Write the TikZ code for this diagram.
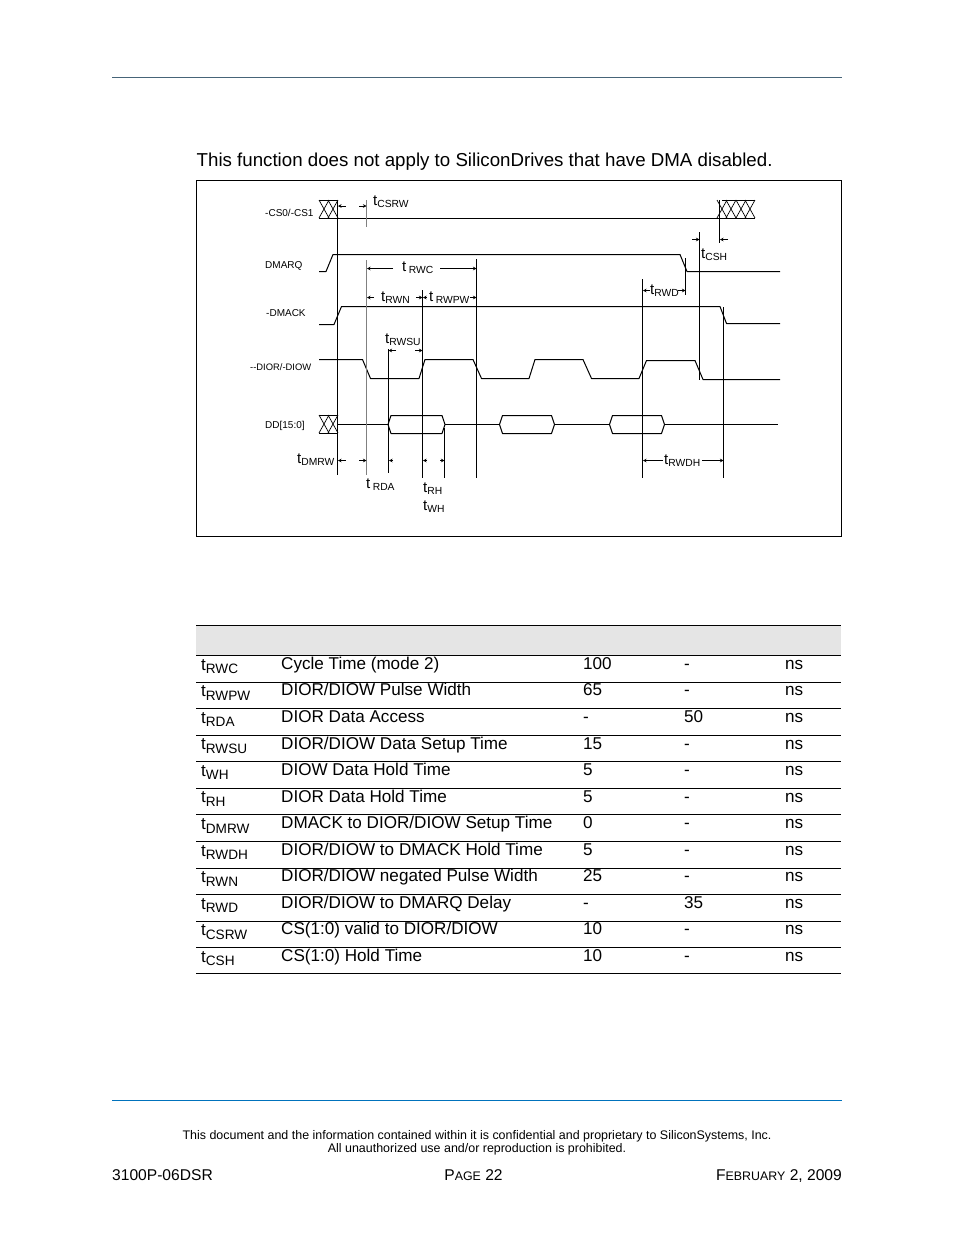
\documentclass[tikz,border=0pt]{standalone}
\usepackage{fontspec}
\setmainfont{Liberation Sans}
\usetikzlibrary{arrows.meta}
\definecolor{toprule}{RGB}{70,100,120}
\definecolor{footrule}{RGB}{0,114,188}
\definecolor{headfill}{RGB}{229,229,229}
\newcommand{\fsz}[1]{\fontsize{#1}{#1}\selectfont}
% label of a timing: big t, small lowered name
\newcommand{\tlab}[1]{\fsz{15}t\raisebox{-2.5pt}{\fsz{10.3}#1}}
\newcommand{\trow}[1]{\fsz{17}t\raisebox{-3.5pt}{\fsz{13.6}#1}}
\tikzset{
  wave/.style={line width=1pt, line join=round},
  hatch/.style={line width=0.7pt},
  guide/.style={line width=1pt},
  dimline/.style={line width=0.9pt, -{Stealth[length=3.5pt,width=3.5pt]}},
  siglabel/.style={anchor=west, inner sep=0pt, font=\fsz{10}},
  timelabel/.style={anchor=base west, inner sep=0pt},
  cell/.style={anchor=base west, inner sep=0pt, font=\fsz{17.1}},
  rowline/.style={line width=0.8pt, black}
}
\begin{document}
\begin{tikzpicture}[x=1pt,y=-1pt]
	\useasboundingbox (0,0) rectangle (954,1235);
	\draw [toprule, line width=0.9pt] (112,77.5) -- (842,77.5);
	\node (intro) [anchor=base west, inner sep=0pt, font=\fsz{18.7}] at (196.5,166.2) {This function does not apply to SiliconDrives that have DMA disabled.};
	\draw [line width=0.8pt] (196.5,180) rectangle (841.5,536.5);
	% signal names
	\node (cs) [siglabel] at (265,213) {-CS0/-CS1};
	\node (dmarq) [siglabel] at (265,265.5) {DMARQ};
	\node (dmack) [siglabel] at (266,313) {-DMACK};
	\node (dior) [siglabel, font=\fsz{9.4}] at (250,367.5) {{-}{-}DIOR/-DIOW};
	\node (dd) [siglabel] at (265,425.5) {DD[15:0]};
	% waves
	\draw [wave] (319,218.5) -- (755,218.5);
	\foreach \xa in {319,328} {
		\draw [hatch] (\xa,200) -- (\xa+10,218) (\xa,218) -- (\xa+10,200);
		\draw [hatch] (\xa,433) -- (\xa+10,415) (\xa,415) -- (\xa+10,433);
	}
	\draw [hatch] (319,200) -- (338,200) (319,415) -- (338,415) (319,433) -- (338,433);
	\foreach \xa in {717,726,736,745} {
		\draw [hatch] (\xa,218) -- (\xa+10,200) (\xa,200) -- (\xa+10,218);
	}
	\draw [hatch] (722,200) -- (755,200);
	\draw [wave] (319,271.5) -- (326,271.5) -- (333,254.5) -- (680,254.5) -- (687,271.5) -- (780,271.5);
	\draw [wave] (319,324.5) -- (334,324.5) -- (341.5,306.5) -- (720,306.5) -- (726.5,323.5) -- (780,323.5);
	\draw [wave] (319,359.5) -- (362.5,359.5) -- (370.5,378.5) -- (419,378.5) -- (425,359.5) -- (473,359.5)
		-- (481.5,378.5) -- (529,378.5) -- (535,359.5) -- (583,359.5) -- (591.5,378.5) -- (639,378.5)
		-- (646.5,360.5) -- (695,360.5) -- (703,379.5) -- (780,379.5);
	\draw [wave] (338,424.5) -- (388,424.5) (445,424.5) -- (499.5,424.5) (554.5,424.5) -- (609.5,424.5) (664.5,424.5) -- (778,424.5);
	\foreach \xa/\xb in {388/445,499.5/554.5,609.5/664.5} {
		\draw [wave] (\xa,424.5) -- (\xa+3,415.5) -- (\xb-3,415.5) -- (\xb,424.5) -- (\xb-3,433.5) -- (\xa+3,433.5) -- cycle;
	}
	% guide lines
	\draw [guide] (337.5,200) -- (337.5,475);
	\draw [guide, gray] (366.5,200) -- (366.5,227);
	\draw [guide, gray] (366.5,260) -- (366.5,475);
	\draw [guide] (388.5,349) -- (388.5,473);
	\draw [guide] (422.5,290) -- (422.5,478);
	\draw [guide] (444.5,428) -- (444.5,478);
	\draw [guide] (476.5,259) -- (476.5,478);
	\draw [guide] (642.5,279) -- (642.5,478);
	\draw [guide] (685.5,258) -- (685.5,295);
	\draw [guide] (699.5,232) -- (699.5,380);
	\draw [guide] (719.5,200) -- (719.5,243);
	\draw [guide] (723.5,307) -- (723.5,478);
	% timing marks
	\draw [dimline] (345.5,206) -- (338,206);
	\draw [dimline] (359,206) -- (366.5,206);
	\draw [dimline] (393,268.5) -- (367,268.5);
	\draw [dimline] (440,268.5) -- (476.5,268.5);
	\draw [dimline] (374,297.5) -- (367,297.5);
	\draw [dimline] (416,297.5) -- (422.5,297.5);
	\draw [dimline] (427,297.5) -- (423,297.5);
	\draw [dimline] (470,297.5) -- (476.5,297.5);
	\draw [dimline] (396,350.5) -- (388.5,350.5);
	\draw [dimline] (415,350.5) -- (422.5,350.5);
	\draw [dimline] (650,290.5) -- (643,290.5);
	\draw [dimline] (678,290.5) -- (685.5,290.5);
	\draw [dimline] (692,239.5) -- (699.5,239.5);
	\draw [dimline] (728,239.5) -- (720,239.5);
	\draw [dimline] (345.5,460.5) -- (338,460.5);
	\draw [dimline] (359,460.5) -- (366.5,460.5);
	\draw [dimline] (393,460.5) -- (389,460.5);
	\draw [dimline] (427,460.5) -- (423,460.5);
	\draw [dimline] (440,460.5) -- (444.5,460.5);
	\draw [dimline] (663,460.5) -- (643,460.5);
	\draw [dimline] (702,460.5) -- (723.5,460.5);
	% timing names
	\node (csrw) [timelabel] at (373,205) {\tlab{CSRW}};
	\node (rwc) [timelabel] at (402,271) {\fsz{15}t\,\raisebox{-2.5pt}{\fsz{10.3}RWC}};
	\node (rwn) [timelabel] at (381,301) {\tlab{RWN}};
	\node (rwpw) [timelabel] at (429,301) {\fsz{15}t\,\raisebox{-2.5pt}{\fsz{10.3}RWPW}};
	\node (rwsu) [timelabel] at (385,343) {\tlab{RWSU}};
	\node (rwd) [timelabel] at (650,294) {\tlab{RWD}};
	\node (csh) [timelabel] at (701,258) {\tlab{CSH}};
	\node (dmrw) [timelabel] at (297,463) {\tlab{DMRW}};
	\node (rda) [timelabel] at (366,488) {\fsz{15}t\,\raisebox{-2.5pt}{\fsz{10.3}RDA}};
	\node (rh) [timelabel] at (423,492) {\tlab{RH}};
	\node (wh) [timelabel] at (423,510) {\tlab{WH}};
	\node (rwdh) [timelabel] at (664,464) {\tlab{RWDH}};
	% table
	\fill [headfill] (196,626) rectangle (841,655.5);
	\draw [rowline] (196,625.5) -- (841,625.5);
	\foreach \nr/\sym/\what/\tmin/\tmax in {
		0/RWC/Cycle Time (mode 2)/100/-,
		1/RWPW/DIOR\slash DIOW Pulse Width/65/-,
		2/RDA/DIOR Data Access/-/50,
		3/RWSU/DIOR\slash DIOW Data Setup Time/15/-,
		4/WH/DIOW Data Hold Time/5/-,
		5/RH/DIOR Data Hold Time/5/-,
		6/DMRW/DMACK to DIOR\slash DIOW Setup Time/0/-,
		7/RWDH/DIOR\slash DIOW to DMACK Hold Time/5/-,
		8/RWN/DIOR\slash DIOW negated Pulse Width/25/-,
		9/RWD/DIOR\slash DIOW to DMARQ Delay/-/35,
		10/CSRW/CS(1:0) valid to DIOR\slash DIOW/10/-,
		11/CSH/CS(1:0) Hold Time/10/-} {
		\pgfmathsetmacro{\rowy}{655.5+26.55*\nr}
		\node (sym\nr) [cell] at (201,\rowy+14.7) {\trow{\sym}};
		\node (what\nr) [cell] at (281,\rowy+13.9) {\what};
		\node (min\nr) [cell] at (583,\rowy+13.9) {\tmin};
		\node (max\nr) [cell] at (684,\rowy+13.9) {\tmax};
		\node (unit\nr) [cell] at (785,\rowy+13.9) {ns};
		\draw [rowline] (196,\rowy) -- (841,\rowy);
	}
	\draw [rowline] (196,973.5) -- (841,973.5);
	% footer
	\draw [footrule, line width=0.9pt] (112,1100.5) -- (842,1100.5);
	\node (conf) [anchor=base, inner sep=0pt, font=\fsz{12.45}] at (477,1139) {This document and the information contained within it is confidential and proprietary to SiliconSystems, Inc.};
	\node (rights) [anchor=base, inner sep=0pt, font=\fsz{12.45}] at (477,1152) {All unauthorized use and/or reproduction is prohibited.};
	\node (docno) [anchor=base west, inner sep=0pt, font=\fsz{15.6}] at (112,1180.5) {3100P-06DSR};
	\node (page) [anchor=base, inner sep=0pt, font=\fsz{15.6}] at (473.5,1180.5) {P{\fsz{12.4}AGE} 22};
	\node (date) [anchor=base east, inner sep=0pt, font=\fsz{15.6}] at (842,1180.5) {F{\fsz{12.4}EBRUARY} 2, 2009};
\end{tikzpicture}
\end{document}
